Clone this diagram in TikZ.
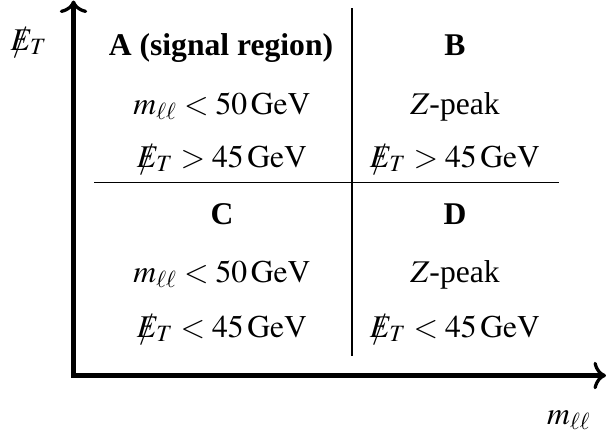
\documentclass[tikz,border=0pt]{standalone}
\usepackage{mathptmx}
\usepackage[no-math]{fontspec}
\setmainfont{Liberation Serif}
\usepackage{tikz}
\usetikzlibrary{arrows.meta}

\newcommand{\met}{\rlap{$\kern0.05em/$}E_T}

\begin{document}
\begin{tikzpicture}[
    x=0.4pt, y=-0.4pt,
    cell/.style={anchor=base, inner sep=0pt, font=\fontsize{12.65}{15}\selectfont},
    head/.style={cell, font=\fontsize{12.65}{15}\selectfont\bfseries},
    axistip/.tip={To[length=5pt,width=11pt,line width=1.3pt]},
    axisline/.style={line width=2pt, line join=miter, axistip-axistip},
    gridline/.style={line width=0.6pt}
]
\useasboundingbox (0,0) rectangle (606,435);

% Axes
\coordinate (ytop) at (73.5,0.5);
\coordinate (origin) at (73.5,375.5);
\coordinate (xend) at (606,375.5);
\draw[axisline] (ytop) -- (origin) -- (xend);
\node[cell] (ylabel) at (29,50) {$\met$};
\node[cell] (xlabel) at (569,424) {$m_{\ell\ell}$};

% Table rules
\coordinate (vtop) at (352,8);
\coordinate (vbot) at (352,356);
\coordinate (hleft) at (94,182.5);
\coordinate (hright) at (559,182.5);
\draw[gridline] (vtop) -- (vbot);
\draw[gridline] (hleft) -- (hright);

% Top row: A and B
\node[head] (rega) at (221,55) {A (signal region)};
\node[cell] (rega1) at (222,114) {$m_{\ell\ell} < 50\,\mathrm{GeV}$};
\node[cell] (rega2) at (222,167) {$\met > 45\,\mathrm{GeV}$};
\node[head] (regb) at (455,55) {B};
\node[cell] (regb1) at (455,114) {$Z$-peak};
\node[cell] (regb2) at (455,167) {$\met > 45\,\mathrm{GeV}$};

% Bottom row: C and D
\node[head] (regc) at (222,224) {C};
\node[cell] (regc1) at (222,282) {$m_{\ell\ell} < 50\,\mathrm{GeV}$};
\node[cell] (regc2) at (222,337) {$\met < 45\,\mathrm{GeV}$};
\node[head] (regd) at (455,224) {D};
\node[cell] (regd1) at (455,282) {$Z$-peak};
\node[cell] (regd2) at (455,337) {$\met < 45\,\mathrm{GeV}$};

\end{tikzpicture}
\end{document}
